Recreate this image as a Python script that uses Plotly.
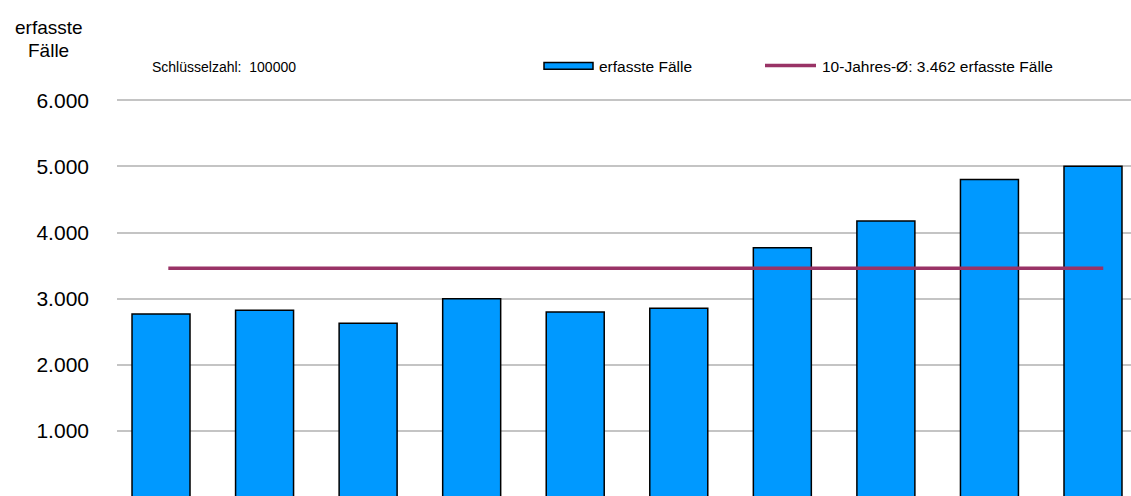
import plotly.graph_objects as go

# ---- data ----
years = ["2014", "2015", "2016", "2017", "2018", "2019", "2020", "2021", "2022", "2023"]
cases = [2770, 2825, 2631, 3000, 2800, 2855, 3770, 4173, 4800, 5000]
avg_value = 3462
y_tick_vals = [1000, 2000, 3000, 4000, 5000, 6000]
y_tick_text = ["1.000", "2.000", "3.000", "4.000", "5.000", "6.000"]
bar_name = "erfasste Fälle"
avg_name = "10-Jahres-Ø: 3.462 erfasste Fälle"
key_text = "Schlüsselzahl:  100000"
y_title_lines = ["erfasste", "Fälle"]

W, H = 1131, 496
FONT = "Liberation Sans, Arial, sans-serif"
BAR_COLOR = "#0099FF"
AVG_COLOR = "#993366"


def px(x):
    return x / W


def py(y):
    return 1 - y / H


fig = go.Figure()
fig.add_trace(go.Bar(
    x=list(range(len(years))), y=cases, name=bar_name,
    marker=dict(color=BAR_COLOR, line=dict(color="black", width=1.5)),
    width=0.56, showlegend=False, hoverinfo="x+y",
))
fig.add_trace(go.Scatter(
    x=list(range(len(years))), y=[avg_value] * len(years), name=avg_name,
    mode="lines", line=dict(color=AVG_COLOR, width=3.5),
    xaxis="x2", showlegend=False,
))

fig.update_layout(
    width=W, height=H,
    margin=dict(l=0, r=0, t=0, b=0),
    paper_bgcolor="white", plot_bgcolor="white",
    font=dict(family=FONT, color="black"),
    xaxis=dict(domain=[px(117), 1], range=[-0.425, 9.367], showgrid=False,
               zeroline=False, showticklabels=False, showline=False, ticks=""),
    xaxis2=dict(domain=[px(117), 1], range=[-0.494, 9.267], overlaying="x",
                showgrid=False, zeroline=False, showticklabels=False,
                showline=False, ticks=""),
    yaxis=dict(domain=[0, py(90)], range=[19.4, 6079], tickvals=y_tick_vals,
               ticktext=y_tick_text, showgrid=True, gridcolor="#C4C4C4",
               gridwidth=1.5, zeroline=False, showline=False, ticks="",
               ticklabelstandoff=27, tickfont=dict(size=21, family=FONT)),
    showlegend=False,
)

shapes = [
    dict(type="rect", xref="paper", yref="paper",
         x0=px(544), x1=px(593), y0=py(64), y1=py(57.3),
         fillcolor=BAR_COLOR, line=dict(color="black", width=1.5)),
    dict(type="line", xref="paper", yref="paper",
         x0=px(765), x1=px(816), y0=py(60.3), y1=py(60.3),
         line=dict(color=AVG_COLOR, width=3.5)),
]
fig.update_layout(shapes=shapes)

annotations = [
    dict(text=y_title_lines[0], x=px(48.5), y=py(22), xref="paper", yref="paper",
         xanchor="center", yanchor="middle", showarrow=False,
         font=dict(size=19, family=FONT)),
    dict(text=y_title_lines[1], x=px(48.5), y=py(45.5), xref="paper", yref="paper",
         xanchor="center", yanchor="middle", showarrow=False,
         font=dict(size=19, family=FONT)),
    dict(text=key_text, x=px(150), y=py(62), xref="paper", yref="paper",
         xanchor="left", yanchor="middle", showarrow=False,
         font=dict(size=14, family=FONT)),
    dict(text=bar_name, x=px(597), y=py(61), xref="paper", yref="paper",
         xanchor="left", yanchor="middle", showarrow=False,
         font=dict(size=15.5, family=FONT)),
    dict(text=avg_name, x=px(820), y=py(61), xref="paper", yref="paper",
         xanchor="left", yanchor="middle", showarrow=False,
         font=dict(size=15.5, family=FONT)),
]
fig.update_layout(annotations=annotations)

fig.write_html("out.html")
